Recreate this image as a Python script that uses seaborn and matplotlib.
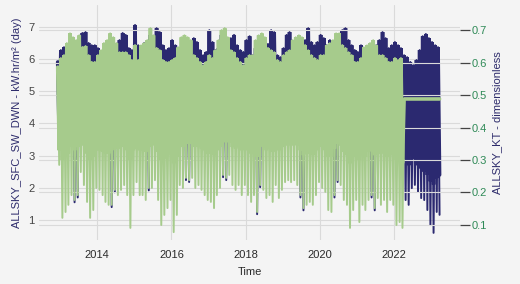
import numpy as np
import pandas as pd
import matplotlib
matplotlib.use('Agg')
import matplotlib.pyplot as plt
import matplotlib.dates as mdates
import seaborn as sns

# Monthly values (Dec 2012 .. Mar 2023)
months = pd.date_range('2012-12-01', '2023-03-01', freq='MS')

# ALLSKY_SFC_SW_DWN (kW.hr/m2/day): highest day, lowest day, usual low level
ghi_hi = [5.91,
          6.28, 6.37, 6.12, 6.53, 6.43, 6.28, 6.43, 6.81, 6.84, 6.50, 6.43, 6.43,
          6.34, 6.12, 6.22, 6.28, 6.47, 6.40, 6.28, 6.59, 6.81, 6.75, 6.34, 6.28,
          7.06, 6.43, 6.34, 6.50, 6.34, 6.75, 6.43, 6.96, 6.84, 6.43, 6.28, 6.34,
          6.59, 6.43, 6.28, 6.37, 6.43, 6.40, 6.34, 6.65, 6.53, 6.28, 6.12, 6.22,
          6.90, 6.53, 6.28, 6.34, 6.75, 6.75, 6.40, 6.65, 6.75, 6.43, 6.28, 6.22,
          6.59, 6.71, 6.12, 6.34, 6.47, 6.53, 6.40, 6.47, 6.90, 6.84, 6.12, 6.06,
          6.34, 6.75, 6.84, 6.34, 6.40, 6.47, 6.43, 6.59, 6.96, 6.53, 6.43, 6.53,
          6.75, 6.65, 6.43, 6.59, 6.34, 6.53, 6.53, 6.90, 6.96, 6.59, 6.43, 6.28,
          6.22, 6.43, 6.34, 6.22, 6.22, 6.28, 6.43, 6.59, 6.84, 6.65, 6.34, 6.43,
          6.53, 6.43, 6.34, 6.12, 6.06, 5.91, 5.81, 5.97, 6.28, 6.71, 6.78, 6.65,
          6.53, 6.43, 6.37]
ghi_lo = [3.6,
          3.5, 3.5, 3.6, 3.7, 1.55, 1.70, 3.8, 3.7, 3.6, 3.5, 3.5, 3.6,
          3.6, 3.5, 3.5, 3.5, 1.40, 1.86, 3.7, 3.7, 3.7, 3.6, 3.5, 3.6,
          3.6, 3.6, 3.6, 3.5, 1.92, 3.7, 3.8, 3.6, 3.5, 3.5, 3.5, 3.5,
          3.5, 3.5, 3.7, 3.7, 2.24, 2.18, 3.8, 3.7, 3.7, 3.6, 3.6, 3.5,
          3.5, 3.5, 3.6, 3.7, 2.33, 2.24, 3.8, 3.7, 3.7, 3.7, 3.6, 3.7,
          3.6, 3.5, 3.6, 1.18, 2.02, 3.7, 3.6, 3.6, 3.6, 3.7, 3.6, 3.7,
          3.7, 3.8, 3.7, 3.8, 3.7, 1.70, 1.30, 3.5, 3.5, 3.5, 3.6, 3.7,
          3.7, 3.6, 3.5, 3.5, 1.70, 2.18, 3.7, 3.6, 3.5, 3.5, 3.5, 3.6,
          3.5, 3.5, 3.5, 3.6, 1.70, 1.30, 3.6, 3.5, 3.6, 3.5, 3.6, 3.5,
          3.5, 3.5, 3.5, 1.62, 1.47, 1.99, 2.09, 1.87, 1.68, 1.62, 1.31, 0.84,
          0.60, 1.25, 1.16]
ghi_base = [3.6,
            3.5, 3.5, 3.6, 3.7, 3.6, 3.7, 3.8, 3.7, 3.6, 3.5, 3.5, 3.6,
            3.6, 3.5, 3.5, 3.5, 3.6, 3.7, 3.7, 3.7, 3.7, 3.6, 3.5, 3.6,
            3.6, 3.6, 3.6, 3.5, 3.7, 3.7, 3.8, 3.6, 3.5, 3.5, 3.5, 3.5,
            3.5, 3.5, 3.7, 3.7, 3.8, 3.8, 3.8, 3.7, 3.7, 3.6, 3.6, 3.5,
            3.5, 3.5, 3.6, 3.7, 3.8, 3.8, 3.8, 3.7, 3.7, 3.7, 3.6, 3.7,
            3.6, 3.5, 3.6, 3.5, 3.7, 3.7, 3.6, 3.6, 3.6, 3.7, 3.6, 3.7,
            3.7, 3.8, 3.7, 3.8, 3.7, 3.6, 3.5, 3.5, 3.5, 3.5, 3.6, 3.7,
            3.7, 3.6, 3.5, 3.5, 3.6, 3.8, 3.7, 3.6, 3.5, 3.5, 3.5, 3.6,
            3.5, 3.5, 3.5, 3.6, 3.6, 3.5, 3.6, 3.5, 3.6, 3.5, 3.6, 3.5,
            3.5, 3.5, 3.5, 2.9, 2.7, 3.0, 2.9, 2.7, 2.6, 2.5, 2.4, 2.2,
            2.1, 2.3, 2.4]

# ALLSKY_KT (dimensionless): highest day, lowest day, usual low level
kt_hi = [0.586,
         0.614, 0.623, 0.660, 0.690, 0.678, 0.669, 0.684, 0.648, 0.651, 0.623, 0.602, 0.602,
         0.623, 0.638, 0.660, 0.669, 0.690, 0.678, 0.660, 0.632, 0.632, 0.632, 0.623, 0.608,
         0.654, 0.608, 0.653, 0.660, 0.669, 0.706, 0.684, 0.645, 0.638, 0.608, 0.602, 0.602,
         0.608, 0.614, 0.647, 0.678, 0.684, 0.678, 0.669, 0.623, 0.614, 0.602, 0.592, 0.602,
         0.623, 0.614, 0.638, 0.669, 0.700, 0.706, 0.678, 0.638, 0.632, 0.614, 0.602, 0.592,
         0.614, 0.623, 0.623, 0.669, 0.684, 0.690, 0.678, 0.645, 0.638, 0.632, 0.608, 0.602,
         0.623, 0.632, 0.638, 0.669, 0.678, 0.684, 0.678, 0.654, 0.638, 0.623, 0.614, 0.608,
         0.623, 0.623, 0.653, 0.660, 0.669, 0.690, 0.690, 0.654, 0.645, 0.632, 0.623, 0.602,
         0.602, 0.614, 0.647, 0.653, 0.660, 0.669, 0.653, 0.623, 0.623, 0.614, 0.602, 0.602,
         0.614, 0.608, 0.614, 0.488, 0.488, 0.488, 0.488, 0.488, 0.488, 0.488, 0.488, 0.488,
         0.488, 0.488, 0.488]
kt_lo = [0.285,
         0.122, 0.140, 0.162, 0.192, 0.177, 0.192, 0.263, 0.223, 0.171, 0.122, 0.146, 0.214,
         0.208, 0.192, 0.171, 0.162, 0.162, 0.208, 0.192, 0.208, 0.223, 0.192, 0.091, 0.192,
         0.232, 0.192, 0.192, 0.177, 0.214, 0.214, 0.238, 0.177, 0.100, 0.131, 0.152, 0.177,
         0.078, 0.131, 0.223, 0.214, 0.245, 0.238, 0.245, 0.214, 0.223, 0.208, 0.192, 0.177,
         0.171, 0.152, 0.192, 0.214, 0.254, 0.245, 0.254, 0.223, 0.208, 0.223, 0.192, 0.223,
         0.192, 0.171, 0.192, 0.140, 0.223, 0.208, 0.183, 0.192, 0.171, 0.223, 0.183, 0.208,
         0.232, 0.238, 0.232, 0.238, 0.223, 0.192, 0.152, 0.162, 0.171, 0.162, 0.192, 0.232,
         0.214, 0.202, 0.146, 0.140, 0.192, 0.238, 0.223, 0.177, 0.162, 0.091, 0.146, 0.177,
         0.109, 0.162, 0.146, 0.177, 0.192, 0.152, 0.183, 0.162, 0.177, 0.140, 0.177, 0.162,
         0.100, 0.109, 0.091, 0.488, 0.488, 0.488, 0.488, 0.488, 0.488, 0.488, 0.488, 0.488,
         0.488, 0.488, 0.488]
kt_base = [0.330,
           0.300, 0.310, 0.320, 0.340, 0.330, 0.340, 0.350, 0.345, 0.320, 0.300, 0.310, 0.330,
           0.330, 0.325, 0.320, 0.320, 0.330, 0.340, 0.335, 0.340, 0.345, 0.330, 0.300, 0.330,
           0.335, 0.330, 0.330, 0.325, 0.340, 0.345, 0.350, 0.325, 0.300, 0.305, 0.315, 0.325,
           0.290, 0.310, 0.340, 0.340, 0.355, 0.350, 0.355, 0.340, 0.340, 0.335, 0.330, 0.320,
           0.320, 0.315, 0.330, 0.340, 0.355, 0.355, 0.355, 0.340, 0.335, 0.340, 0.330, 0.340,
           0.330, 0.320, 0.330, 0.310, 0.345, 0.340, 0.330, 0.335, 0.325, 0.345, 0.330, 0.340,
           0.345, 0.350, 0.345, 0.350, 0.345, 0.330, 0.315, 0.320, 0.320, 0.315, 0.330, 0.345,
           0.340, 0.330, 0.310, 0.310, 0.335, 0.350, 0.345, 0.325, 0.315, 0.290, 0.310, 0.325,
           0.300, 0.315, 0.310, 0.325, 0.330, 0.315, 0.330, 0.320, 0.325, 0.310, 0.325, 0.315,
           0.300, 0.300, 0.290, 0.488, 0.488, 0.488, 0.488, 0.488, 0.488, 0.488, 0.488, 0.488,
           0.488, 0.488, 0.488]

NAVY = '#2b2970'
GREEN = '#a6cb8c'
BG = '#f4f4f4'
GRID = '#dadada'


def zigzag(hi, lo, name):
    """High day early in the month, low day later in the month."""
    df = pd.concat([
        pd.DataFrame({'Time': months + pd.Timedelta(days=7), name: hi}),
        pd.DataFrame({'Time': months + pd.Timedelta(days=22), name: lo}),
    ])
    return df.sort_values('Time').reset_index(drop=True)


def draw(ax, hi, lo, base, name, color):
    # thick strokes for the dense body, thin strokes for the deep dips
    sns.lineplot(data=zigzag(hi, base, name), x='Time', y=name, ax=ax,
                 color=color, linewidth=2.6, solid_joinstyle='bevel')
    sns.lineplot(data=zigzag(hi, lo, name), x='Time', y=name, ax=ax,
                 color=color, linewidth=1.4)


sns.set_theme(style='whitegrid', rc={'figure.facecolor': BG, 'axes.facecolor': BG,
                                     'grid.color': GRID, 'grid.linewidth': 0.8})
plt.rcParams['font.family'] = ['Liberation Sans', 'DejaVu Sans']

fig, ax = plt.subplots(figsize=(5.2, 2.84), dpi=100)
fig.subplots_adjust(left=0.075, right=0.885, bottom=0.155, top=0.982)

draw(ax, ghi_hi, ghi_lo, ghi_base, 'ghi', NAVY)
ax2 = ax.twinx()
draw(ax2, kt_hi, kt_lo, kt_base, 'kt', GREEN)

ax.set_xlim(pd.Timestamp('2012-06-07'), pd.Timestamp('2023-10-12'))
ax.set_ylim(0.379, 7.677)
ax2.set_ylim(0.0538, 0.777)

ax.xaxis.set_major_locator(mdates.YearLocator(2))
ax.xaxis.set_major_formatter(mdates.DateFormatter('%Y'))
ax.set_yticks([1, 2, 3, 4, 5, 6, 7])
ax2.set_yticks([0.1, 0.2, 0.3, 0.4, 0.5, 0.6, 0.7])
ax2.set_yticklabels(['0.1', '0.2', '0.3', '0.4', '0.5', '0.6', '0.7'])

ax.grid(True, color=GRID, linewidth=0.8)
ax2.xaxis.grid(False)
ax2.yaxis.grid(True, color=GRID, linewidth=0.8)

for a in (ax, ax2):
    for s in a.spines.values():
        s.set_visible(False)

ax.tick_params(axis='x', length=0, labelsize=8, labelcolor='#2a2a2a', pad=7)
ax.tick_params(axis='y', length=0, labelsize=8, labelcolor='#444444', pad=3)
ax2.tick_params(axis='y', length=7, width=0.9, color='#444444', labelsize=8,
                labelcolor='#2f8a57', pad=1, right=True)

ax.set_xlabel('Time', fontsize=8, color='#2a2a2a', labelpad=5)
ax.set_ylabel('ALLSKY_SFC_SW_DWN - kW.hr/m² (day)', fontsize=8, color='#2d2b6b', labelpad=5)
ax2.set_ylabel('ALLSKY_KT - dimensionless', fontsize=8, color='#2d2b6b', labelpad=4)

fig.savefig('out.png', dpi=100, facecolor=BG)
